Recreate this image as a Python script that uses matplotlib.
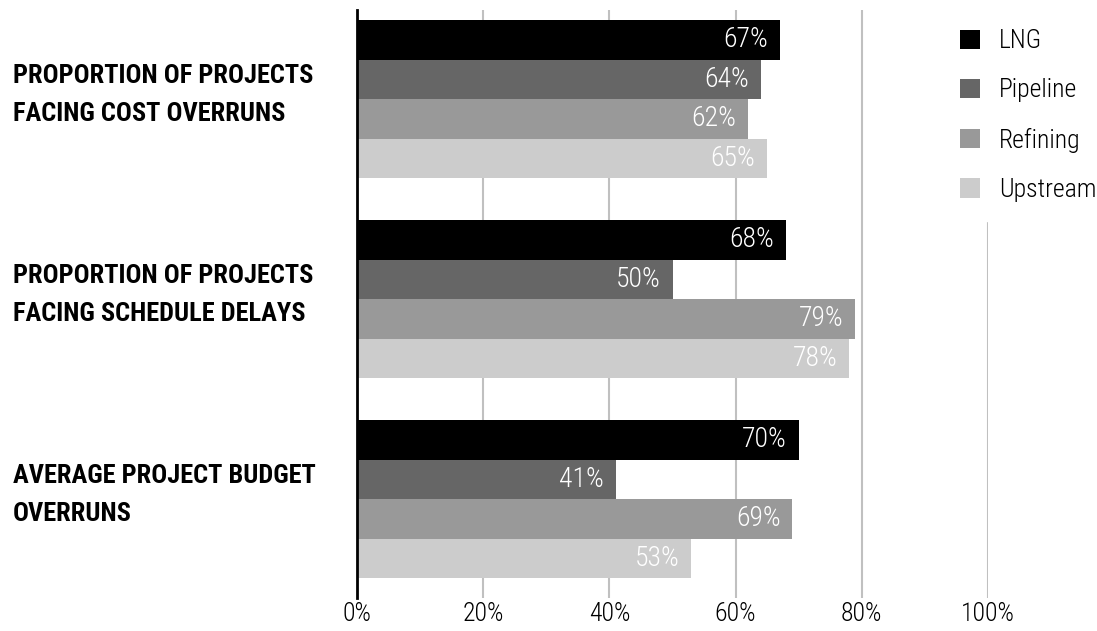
import matplotlib
matplotlib.use('Agg')
import matplotlib.pyplot as plt
import numpy as np

plt.rcParams['font.family'] = ['Roboto Condensed', 'Liberation Sans Narrow', 'Roboto', 'DejaVu Sans']

categories = ['PROPORTION OF PROJECTS\nFACING COST OVERRUNS',
              'PROPORTION OF PROJECTS\nFACING SCHEDULE DELAYS',
              'AVERAGE PROJECT BUDGET\nOVERRUNS']
series = ['LNG', 'Pipeline', 'Refining', 'Upstream']
colors = ['#000000', '#666666', '#999999', '#cccccc']
lng = [67, 68, 70]
pipeline = [64, 50, 41]
refining = [62, 79, 69]
upstream = [65, 78, 53]
values = [lng, pipeline, refining, upstream]
xticks = [0, 20, 40, 60, 80, 100]

fig = plt.figure(figsize=(10.97, 6.31), dpi=100)
ax = fig.add_axes([357 / 1097, 1 - 598 / 631, (988 - 357) / 1097, (598 - 10) / 631])

y = np.arange(len(categories))
h = 0.1975
handles = []
for i, (name, vals, c) in enumerate(zip(series, values, colors)):
    pos = y + (i - 1.5) * h
    b = ax.barh(pos, vals, height=h, color=c, label=name, zorder=3)
    handles.append(b)
    for p, v in zip(pos, vals):
        ax.text(v - 1.9, p, f'{v}%', ha='right', va='center', color='white',
                fontsize=20, fontweight='light', zorder=4)

ax.set_xlim(0, 100)
ax.set_ylim(2.495, -0.445)
ax.set_xticks(xticks)
ax.set_xticklabels([f'{t}%' for t in xticks], fontsize=18.5, fontweight='light')
# category labels sit a little above the group centre
ax.set_yticks(y - 0.02)
ax.set_yticklabels(categories, fontsize=19, fontweight='bold', ha='left',
                   va='center', linespacing=1.72)
ax.tick_params(axis='y', length=0, pad=248)
ax.tick_params(axis='x', length=0, pad=3)
ax.grid(axis='x', color='#c0c0c0', linewidth=1.5, zorder=0)
ax.set_axisbelow(True)
for s in ['top', 'right', 'bottom']:
    ax.spines[s].set_visible(False)
ax.spines['left'].set_linewidth(2)
ax.spines['left'].set_zorder(5)

leg = fig.legend(handles=handles, loc='upper left',
                 bbox_to_anchor=(941 / 1097, 1 - 10 / 631), borderaxespad=0,
                 fontsize=18.5, frameon=True, facecolor='white', edgecolor='white',
                 framealpha=1, handlelength=0.78, handleheight=0.78,
                 handletextpad=0.74, labelspacing=0.98, borderpad=0.75, fancybox=False)
for t in leg.get_texts():
    t.set_fontweight('light')

fig.savefig('out.png', dpi=100)
